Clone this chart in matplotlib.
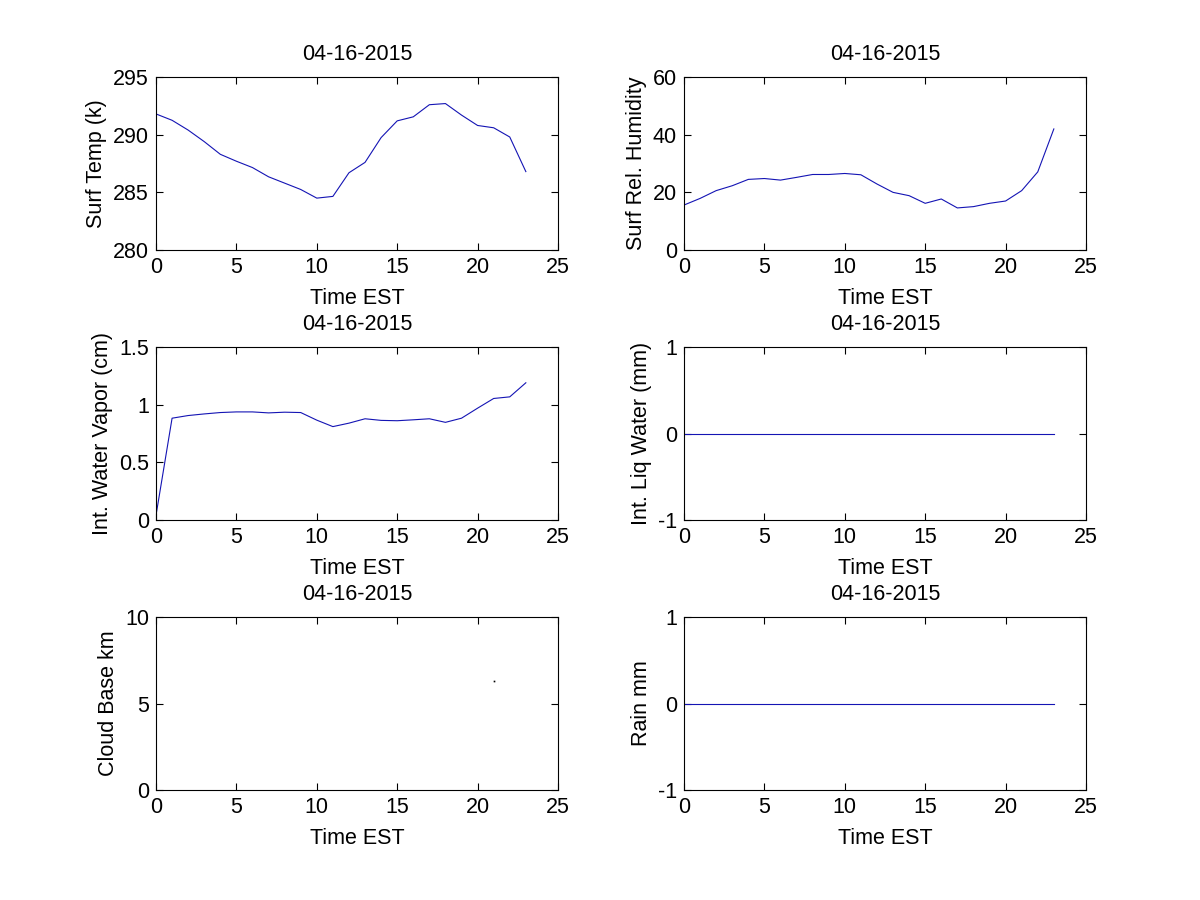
"""
Resumen meteorológico diario (estilo figura de MATLAB): 6 paneles en una rejilla 3x2.
"""

import matplotlib

matplotlib.use("Agg")
import matplotlib.pyplot as plt
import numpy as np

plt.rcParams["font.family"] = ["Liberation Sans", "DejaVu Sans"]
plt.rcParams["font.size"] = 15.5

DATE = "04-16-2015"
hours = list(range(24))

surf_temp = [291.8, 291.25, 290.4, 289.4, 288.3, 287.7, 287.15, 286.35, 285.8, 285.25,
             284.5, 284.65, 286.7, 287.6, 289.75, 291.2, 291.55, 292.6, 292.7, 291.7,
             290.8, 290.6, 289.8, 286.8]
rel_humidity = [15.6, 17.9, 20.6, 22.3, 24.5, 24.8, 24.25, 25.2, 26.2, 26.2,
                26.55, 26.1, 22.9, 20.0, 18.85, 16.2, 17.7, 14.6, 15.05, 16.2,
                17.0, 20.6, 27.1, 42.0]
water_vapor = [0.04, 0.883, 0.906, 0.92, 0.932, 0.9375, 0.9375, 0.929, 0.935, 0.932,
               0.866, 0.81, 0.84, 0.878, 0.864, 0.861, 0.869, 0.878, 0.847, 0.883,
               0.97, 1.054, 1.068, 1.19]
liq_water = [0.0] * 24
# casi todo NaN: solo hay una medida de base de nubes a las 21 h
cloud_base = [np.nan] * 21 + [6.3, np.nan, np.nan]
rain = [0.0] * 24

# (serie, etiqueta y, límites y, ticks y)
panels = [
    (surf_temp, "Surf Temp (k)", (280, 295), [280, 285, 290, 295]),
    (rel_humidity, "Surf Rel. Humidity", (0, 60), [0, 20, 40, 60]),
    (water_vapor, "Int. Water Vapor (cm)", (0, 1.5), [0, 0.5, 1, 1.5]),
    (liq_water, "Int. Liq Water (mm)", (-1, 1), [-1, 0, 1]),
    (cloud_base, "Cloud Base km", (0, 10), [0, 5, 10]),
    (rain, "Rain mm", (-1, 1), [-1, 0, 1]),
]

fig = plt.figure(figsize=(12, 9), dpi=100)
lefts = [0.13, 0.57]
bottoms = [0.7222, 0.4222, 0.1222]

for i, (vals, ylab, ylim, yt) in enumerate(panels):
    r, c = divmod(i, 2)
    ax = fig.add_axes([lefts[c], bottoms[r], 0.335, 0.1922])
    ax.plot(hours, vals, color="#1414b4", linewidth=0.8)
    if ylab == "Cloud Base km":
        ax.plot(hours, vals, linestyle="none", marker="s", markersize=1.2,
                color="black", markeredgewidth=0)
    ax.set_xlim(0, 25)
    ax.set_xticks([0, 5, 10, 15, 20, 25])
    ax.set_ylim(*ylim)
    ax.set_yticks(yt)
    ax.set_yticklabels([f"{v:g}" for v in yt])
    ax.tick_params(direction="in", top=True, right=True, length=5, width=0.8, pad=5)
    for s in ax.spines.values():
        s.set_linewidth(0.8)
    ax.set_title(DATE, pad=12, fontsize=15.5)
    ax.set_xlabel("Time EST", labelpad=7)
    ax.set_ylabel(ylab, labelpad=4)

fig.savefig("out.png", dpi=100)
